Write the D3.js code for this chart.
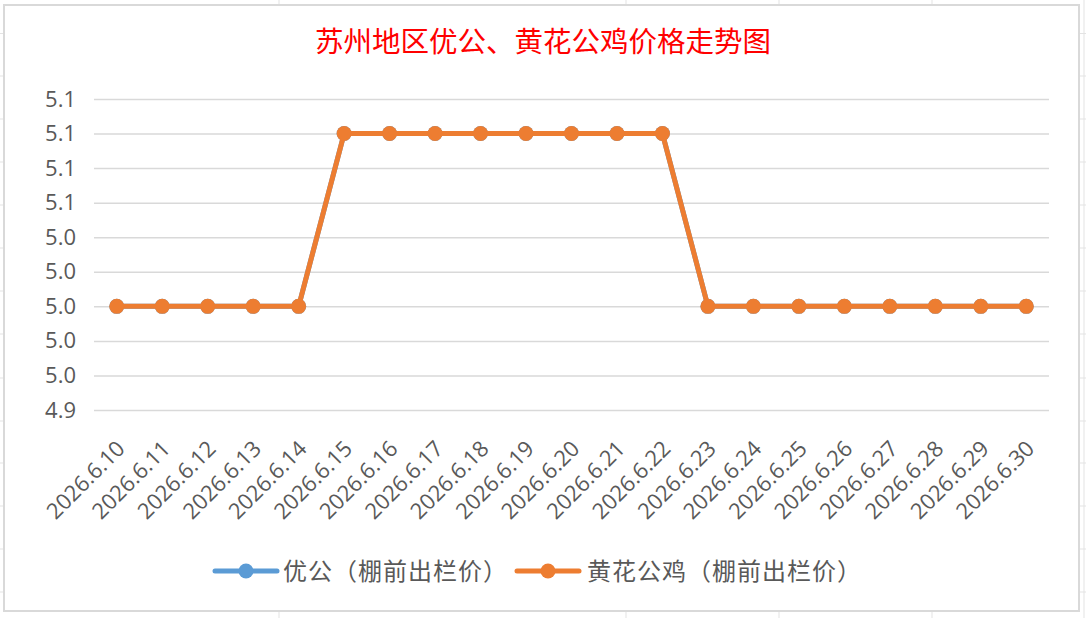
<!DOCTYPE html>
<html>
<head>
<meta charset="utf-8">
<script src="https://cdn.jsdelivr.net/npm/d3@7/dist/d3.min.js"></script>
<style>
  html, body { margin: 0; padding: 0; background: #fff; }
  svg { display: block; }
</style>
</head>
<body>
<svg id="chart" width="1086" height="618"></svg>
<script>
const title = "苏州地区优公、黄花公鸡价格走势图";
const dates = ["2026.6.10","2026.6.11","2026.6.12","2026.6.13","2026.6.14","2026.6.15","2026.6.16",
  "2026.6.17","2026.6.18","2026.6.19","2026.6.20","2026.6.21","2026.6.22","2026.6.23","2026.6.24",
  "2026.6.25","2026.6.26","2026.6.27","2026.6.28","2026.6.29","2026.6.30"];
const youGong = [5.00,5.00,5.00,5.00,5.00,5.10,5.10,5.10,5.10,5.10,5.10,5.10,5.10,5.00,5.00,5.00,5.00,5.00,5.00,5.00,5.00];
const huangHua = [5.00,5.00,5.00,5.00,5.00,5.10,5.10,5.10,5.10,5.10,5.10,5.10,5.10,5.00,5.00,5.00,5.00,5.00,5.00,5.00,5.00];
const seriesNames = ["优公（棚前出栏价）", "黄花公鸡（棚前出栏价）"];
const yTicks = [4.94, 4.96, 4.98, 5.00, 5.02, 5.04, 5.06, 5.08, 5.10, 5.12];
const sheetRows = [33.5, 76, 119, 162, 205, 248, 291, 334, 378, 421, 463, 506, 549, 592];
const sheetCols = [279, 626, 779, 932, 1084];

const svg = d3.select("#chart");
const W = 1086, H = 618;
const colors = ["#5B9BD5", "#ED7D31"];
const latin = "'Open Sans', 'Liberation Sans', sans-serif";
const cjk = "'Noto Sans CJK SC', sans-serif";

// spreadsheet grid behind the chart
svg.append("g").selectAll("line.r").data(sheetRows).join("line")
  .attr("x1", 0).attr("x2", W).attr("y1", d => d).attr("y2", d => d)
  .attr("stroke", "#e3e3e3").attr("stroke-width", 1);
svg.append("g").selectAll("line.c").data(sheetCols).join("line")
  .attr("x1", d => d).attr("x2", d => d).attr("y1", 0).attr("y2", H)
  .attr("stroke", "#e3e3e3").attr("stroke-width", 1);

// chart area
svg.append("rect").attr("x", 4).attr("y", 5).attr("width", 1075).attr("height", 606)
  .attr("fill", "#fff").attr("stroke", "#d9d9d9").attr("stroke-width", 2);

svg.append("text").attr("x", 543).attr("y", 51.5).attr("text-anchor", "middle")
  .attr("font-family", cjk).attr("font-size", 28.5).attr("fill", "#FF0000").text(title);

const x = d3.scalePoint().domain(dates).range([94, 1049]).padding(0.5);
const y = d3.scaleLinear().domain([4.94, 5.12]).range([410, 99]);

// gridlines
const yAxis = d3.axisLeft(y).tickValues(yTicks).tickFormat(d3.format(".1f"))
  .tickSize(-(1049 - 94)).tickPadding(18);
const gy = svg.append("g").attr("transform", "translate(94,0)").call(yAxis);
gy.select(".domain").remove();
gy.selectAll(".tick line").attr("stroke", "#d9d9d9").attr("stroke-width", 1.5);
gy.selectAll(".tick text").attr("font-family", latin).attr("font-size", 22).attr("fill", "#595959");

// x axis labels
const xAxis = d3.axisBottom(x).tickSize(0).tickPadding(0);
const gx = svg.append("g").attr("transform", "translate(0,410)").call(xAxis);
gx.select(".domain").remove();
gx.selectAll(".tick text")
  .attr("font-family", latin).attr("font-size", 22).attr("fill", "#595959")
  .attr("text-anchor", "end").attr("dy", 0).attr("y", 0)
  .attr("transform", "translate(9,40) rotate(-45)");

// series
const line = d3.line().x((d, i) => x(dates[i])).y(d => y(d));
[youGong, huangHua].forEach((vals, k) => {
  svg.append("path").datum(vals).attr("d", line).attr("fill", "none")
    .attr("stroke", colors[k]).attr("stroke-width", 5).attr("stroke-linejoin", "round");
  svg.append("g").selectAll("circle").data(vals).join("circle")
    .attr("cx", (d, i) => x(dates[i])).attr("cy", d => y(d)).attr("r", 7.5)
    .attr("fill", colors[k]);
});

// legend
const legendItems = [{x0: 215, tx: 283}, {x0: 517, tx: 587}];
legendItems.forEach((it, k) => {
  const g = svg.append("g");
  g.append("line").attr("x1", it.x0).attr("x2", it.x0 + 62).attr("y1", 571).attr("y2", 571)
    .attr("stroke", colors[k]).attr("stroke-width", 5).attr("stroke-linecap", "round");
  g.append("circle").attr("cx", it.x0 + 31).attr("cy", 571).attr("r", 7.5).attr("fill", colors[k]);
  g.append("text").attr("x", it.tx).attr("y", 580).attr("font-family", cjk).attr("font-size", 24)
    .attr("letter-spacing", 1).attr("fill", "#595959").text(seriesNames[k]);
});
</script>
</body>
</html>
